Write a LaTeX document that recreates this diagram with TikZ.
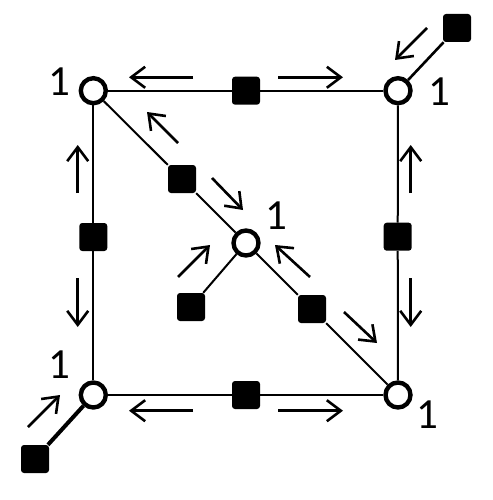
\documentclass[tikz,border=0pt]{standalone}
\usepackage{fontspec}
\setmainfont{Carlito}
\usetikzlibrary{arrows.meta}
\begin{document}
\begin{tikzpicture}[x=1pt,y=-1pt,
  vert/.style={circle,draw,line width=4.4pt,fill=white,minimum size=25pt,inner sep=0pt},
  fac/.style={rectangle,fill=black,rounded corners=3pt,minimum size=28pt,inner sep=0pt},
  edge/.style={line width=2pt},
  msg/.style={line width=2.6pt,-{Straight Barb[length=14pt,width=21pt]}},
  lab/.style={font=\fontsize{43}{43}\selectfont,inner sep=0pt}]
\useasboundingbox (0,0) rectangle (492,500);
% factor nodes
\node[fac] (st) at (246,90.7) {};
\node[fac] (sb) at (246,395) {};
\node[fac] (sl) at (93.3,237) {};
\node[fac] (sr) at (397.7,236.7) {};
\node[fac] (sd1) at (182,179) {};
\node[fac] (sd2) at (312,309) {};
\node[fac] (sc) at (191,307) {};
\node[fac] (str) at (457,28) {};
\node[fac] (sbl) at (35,459) {};
% variable nodes
\node[vert] (tl) at (93.3,90.7) {};
\node[vert] (tr) at (398,90.7) {};
\node[vert] (bl) at (93.3,395) {};
\node[vert] (br) at (398,395) {};
\node[vert] (cc) at (246,243) {};
% edges
\draw[edge] (tl) -- (st) -- (tr);
\draw[edge] (bl) -- (sb) -- (br);
\draw[edge] (tl) -- (sl) -- (bl);
\draw[edge] (tr) -- (sr) -- (br);
\draw[edge] (tl) -- (sd1) -- (cc) -- (sd2) -- (br);
\draw[edge] (cc) -- (sc);
\draw[line width=2.6pt] (tr) -- (str);
\draw[line width=4pt] (bl) -- (sbl);
% labels
\node[lab] (ltl) at (59,82) {1};
\node[lab] (ltr) at (439,92) {1};
\node[lab] (lcc) at (276,216) {1};
\node[lab] (lbl) at (59,365) {1};
\node[lab] (lbr) at (427,415) {1};
% message arrow end points
\coordinate (a1s) at (193,77.3); \coordinate (a1e) at (129,77.3);
\coordinate (a2s) at (278,77.3); \coordinate (a2e) at (343,77.3);
\coordinate (a3s) at (193,410.7); \coordinate (a3e) at (129,410.7);
\coordinate (a4s) at (278,410.7); \coordinate (a4e) at (343,410.7);
\coordinate (a5s) at (77.7,193); \coordinate (a5e) at (77.7,145);
\coordinate (a6s) at (77.7,278); \coordinate (a6e) at (77.7,327);
\coordinate (a7s) at (410.7,193); \coordinate (a7e) at (410.7,145);
\coordinate (a8s) at (410.7,278); \coordinate (a8e) at (410.7,327);
\coordinate (a9s) at (178,143); \coordinate (a9e) at (147,112);
\coordinate (a10s) at (212,178); \coordinate (a10e) at (243,210);
\coordinate (a11s) at (310,277); \coordinate (a11e) at (275,245);
\coordinate (a12s) at (344,312); \coordinate (a12e) at (377,343);
\coordinate (a13s) at (178,277); \coordinate (a13e) at (210,245);
\coordinate (a14s) at (427,28); \coordinate (a14e) at (395,60);
\coordinate (a15s) at (28,427); \coordinate (a15e) at (60,395);
\foreach \i in {1,...,15} \draw[msg] (a\i s) -- (a\i e);
\end{tikzpicture}
\end{document}
